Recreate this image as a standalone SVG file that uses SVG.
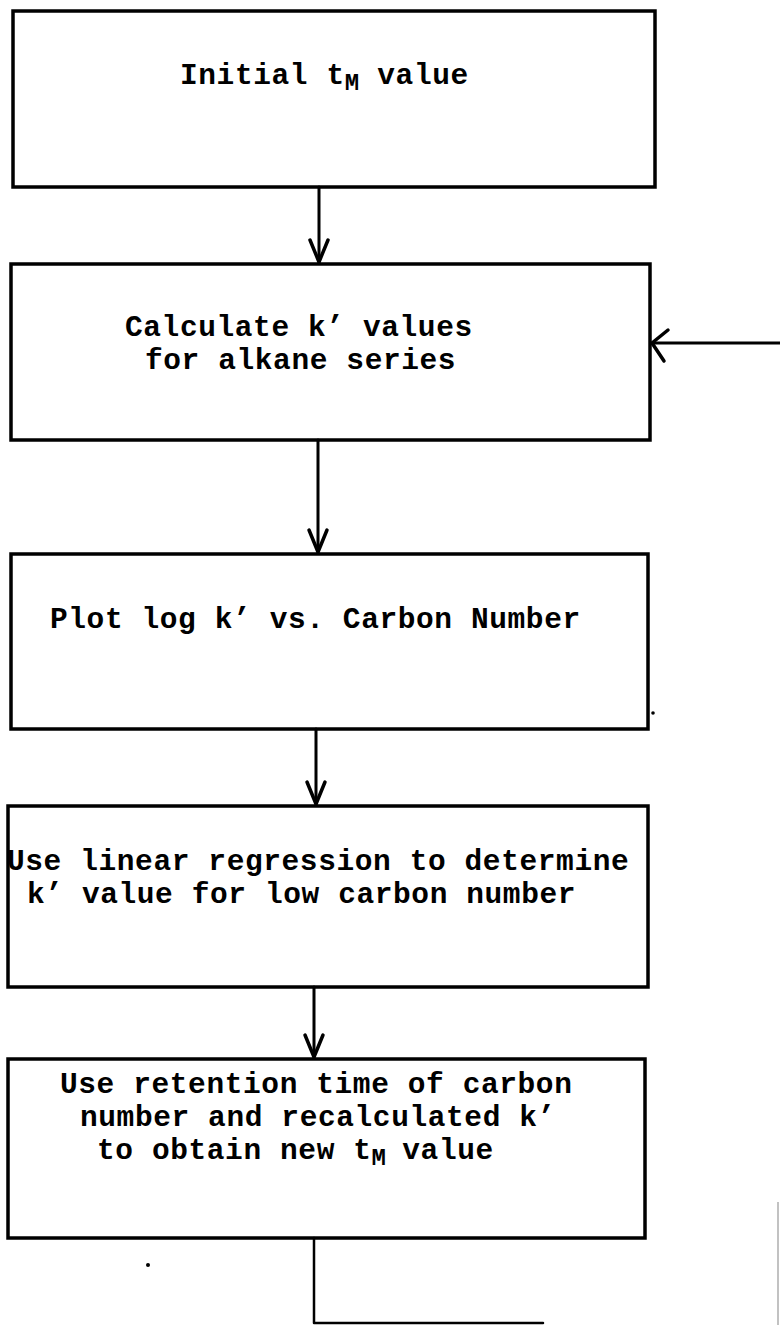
<svg xmlns="http://www.w3.org/2000/svg" width="780" height="1325" viewBox="0 0 780 1325">
<style>
.box{fill:#fff;stroke:#000;stroke-width:3.5}
.t{font-family:"Liberation Mono","Courier New",monospace;font-weight:bold;font-size:29.5px;letter-spacing:0.6px;fill:#000}
.sub{font-size:24px;letter-spacing:0}
.ln{fill:none;stroke:#000;stroke-width:3;stroke-linecap:round;stroke-linejoin:round}
.ah{fill:none;stroke:#000;stroke-width:3.5;stroke-linecap:round;stroke-linejoin:round}
</style>
<rect width="780" height="1325" fill="#fff"/>
<g id="n1">
<rect class="box" x="13" y="11" width="642" height="176"/>
<text class="t" x="180" y="84">Initial t<tspan class="sub" dy="6">M</tspan><tspan x="359" dy="-6"> value</tspan></text>
</g>
<g id="n2">
<rect class="box" x="11" y="264" width="639" height="176"/>
<text class="t" x="125" y="336">Calculate k’ values</text>
<text class="t" x="145" y="369">for alkane series</text>
</g>
<g id="n3">
<rect class="box" x="11" y="554" width="637" height="175"/>
<text class="t" x="50" y="628">Plot log k’ vs. Carbon Number</text>
</g>
<g id="n4">
<rect class="box" x="8" y="806" width="640" height="181"/>
<text class="t" x="7" y="870">Use linear regression to determine</text>
<text class="t" x="27" y="903">k’ value for low carbon number</text>
</g>
<g id="n5">
<rect class="box" x="8" y="1059" width="637" height="179"/>
<text class="t" x="60" y="1093">Use retention time of carbon</text>
<text class="t" x="80" y="1126">number and recalculated k’</text>
<text class="t" x="97" y="1159">to obtain new t<tspan class="sub" dy="6">M</tspan><tspan x="384" dy="-6"> value</tspan></text>
</g>
<g id="connectors">
<line class="ln" x1="319" y1="187" x2="319" y2="262"/>
<polyline class="ah" points="310,240 319,262 328,240"/>
<line class="ln" x1="318" y1="440" x2="318" y2="552"/>
<polyline class="ah" points="309,530 318,552 327,530"/>
<line class="ln" x1="316" y1="729" x2="316" y2="804"/>
<polyline class="ah" points="307,782 316,804 325,782"/>
<line class="ln" x1="314" y1="987" x2="314" y2="1057"/>
<polyline class="ah" points="305,1035 314,1057 323,1035"/>
<polyline class="ln" points="314,1238 314,1323 543,1323" style="stroke-width:2.5"/>
<line class="ln" x1="780" y1="343" x2="652" y2="343"/>
<polyline class="ah" points="668,330 652,343 664,361"/>
<line x1="778" y1="1202" x2="778" y2="1325" stroke="#999" stroke-width="1.2"/>
</g>
<circle cx="653" cy="713" r="1.8" fill="#000"/>
<circle cx="148" cy="1265" r="2" fill="#000"/>
</svg>
